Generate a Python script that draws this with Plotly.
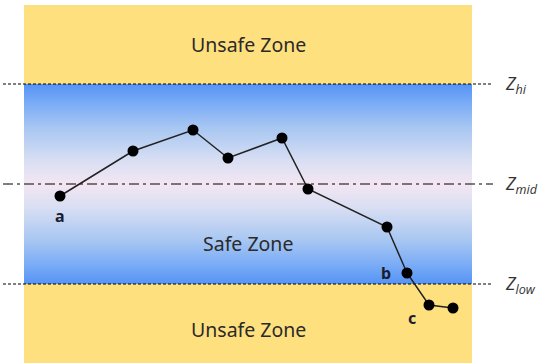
import plotly.graph_objects as go

# ---- data (x: time position, y: Z value; Z_low=0, Z_mid=10, Z_hi=20) ----
t_vals = [60, 133, 193, 228, 282, 308, 387, 407, 429, 453]
z_vals = [8.8, 13.3, 15.4, 12.6, 14.6, 9.5, 5.7, 1.1, -2.1, -2.4]
point_labels = ["a", "", "", "", "", "", "", "b", "c", ""]
thresholds = {"hi": 20, "mid": 10, "low": 0}
threshold_names = ["<i>Z</i><sub><i>hi</i></sub>", "<i>Z</i><sub><i>mid</i></sub>", "<i>Z</i><sub><i>low</i></sub>"]
zone_names = ["Unsafe Zone", "Safe Zone", "Unsafe Zone"]

X_LEFT, X_RIGHT = 24, 472
Y_TOP, Y_BOT = 27.9, -7.9
YELLOW = "#FFE07F"

fig = go.Figure()

# yellow unsafe zones
fig.add_shape(type="rect", x0=X_LEFT, x1=X_RIGHT, y0=thresholds["hi"], y1=Y_TOP,
              fillcolor=YELLOW, line_width=0, layer="below")
fig.add_shape(type="rect", x0=X_LEFT, x1=X_RIGHT, y0=Y_BOT, y1=thresholds["low"],
              fillcolor=YELLOW, line_width=0, layer="below")

# safe zone gradient
fig.add_trace(go.Scatter(
    x=[X_LEFT, X_RIGHT, X_RIGHT, X_LEFT, X_LEFT],
    y=[thresholds["low"], thresholds["low"], thresholds["hi"], thresholds["hi"], thresholds["low"]],
    mode="lines", line=dict(width=0), fill="toself",
    fillgradient=dict(type="vertical", colorscale=[
        [0.0, "#5593f4"], [0.08, "#74a8f6"], [0.22, "#a8c7f2"],
        [0.38, "#d8def3"], [0.5, "#f4e6f2"], [0.62, "#d8def3"],
        [0.78, "#a8c7f2"], [0.92, "#74a8f6"], [1.0, "#5593f4"]]),
    hoverinfo="skip", showlegend=False))

# threshold lines
fig.add_trace(go.Scatter(x=[3, 493], y=[thresholds["hi"]] * 2, mode="lines",
                         line=dict(color="black", width=1, dash="3px,2px"), showlegend=False))
fig.add_trace(go.Scatter(x=[3, 493], y=[thresholds["low"]] * 2, mode="lines",
                         line=dict(color="black", width=1, dash="3px,2px"), showlegend=False))
fig.add_trace(go.Scatter(x=[3, 493], y=[thresholds["mid"]] * 2, mode="lines",
                         line=dict(color="black", width=1, dash="10px,4px,3px,4px"), showlegend=False))

# trajectory
fig.add_trace(go.Scatter(x=t_vals, y=z_vals, mode="lines+markers",
                         line=dict(color="#222222", width=1.5),
                         marker=dict(color="black", size=11), showlegend=False))

# threshold labels
for name, key in zip(threshold_names, ["hi", "mid", "low"]):
    fig.add_annotation(x=503, y=thresholds[key], text=name, showarrow=False,
                       xanchor="left", yanchor="middle",
                       font=dict(family="Open Sans", size=18, color="#333333"))

# zone labels
zone_y = [(thresholds["hi"] + Y_TOP) / 2 + 0.05, (thresholds["low"] + thresholds["mid"]) / 2 - 0.9, -4.5]
for name, zy in zip(zone_names, zone_y):
    fig.add_annotation(x=(X_LEFT + X_RIGHT) / 2, y=zy, text=name, showarrow=False,
                       font=dict(family="Noto Sans", size=19.5, color="#2a2a2a"))

# point labels
offsets = {"a": (0, -2.0), "b": (-21, 0.0), "c": (-17, -1.3)}
for t, z, lab in zip(t_vals, z_vals, point_labels):
    if lab:
        dx, dz = offsets[lab]
        fig.add_annotation(x=t + dx, y=z + dz, text="<b>" + lab + "</b>", showarrow=False,
                           font=dict(family="Noto Sans", size=16, color="#1c1c30"))

fig.update_layout(
    width=545, height=363, margin=dict(l=0, r=0, t=0, b=0),
    paper_bgcolor="white", plot_bgcolor="white",
    xaxis=dict(range=[0, 545], visible=False, fixedrange=True),
    yaxis=dict(range=[-7.9, 28.4], visible=False, fixedrange=True),
    showlegend=False,
)

fig.write_html("out.html", config={"displayModeBar": False},
               post_script="document.body.style.margin='0';document.body.style.overflow='hidden';")
